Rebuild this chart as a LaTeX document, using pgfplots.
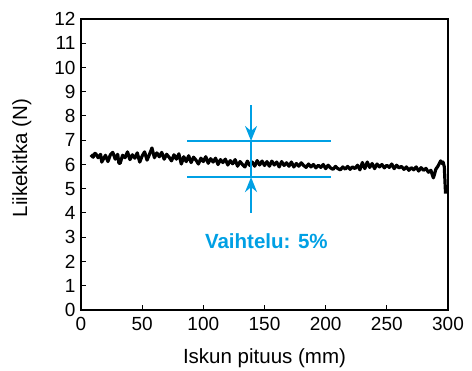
\documentclass[border=0pt]{standalone}
\usepackage{pgfplots}
\pgfplotsset{compat=1.18}
\usepackage{fontspec}
\setmainfont{Liberation Sans}
\usetikzlibrary{arrows.meta}
\definecolor{cyanA}{RGB}{0,160,228}
\begin{document}
\begin{tikzpicture}
\begin{axis}[
  at={(0,0)}, anchor=south west,
  scale only axis, width=367pt, height=291pt,
  xmin=0, xmax=300, ymin=0, ymax=12,
  xtick={0,50,...,300}, ytick={0,1,...,12},
  xtick pos=bottom, ytick pos=left, tick align=inside,
  major tick length=5pt,
  axis line style={line width=1.6pt},
  tick style={line width=1pt, black},
  /pgf/number format/assume math mode=true,
  ticklabel style={font=\fontsize{19}{19}\selectfont},
  xticklabel style={yshift=-4pt},
  yticklabel style={xshift=-2pt},
  xlabel={Iskun pituus (mm)}, ylabel={Liikekitka (N)},
  label style={font=\fontsize{20.5}{20.5}\selectfont},
  xlabel style={at={(axis description cs:0.5,-0.165)}, anchor=center},
  ylabel style={at={(axis description cs:-0.161,0.522)}, anchor=center},
  clip=false,
]
\addplot[black, line width=3.2pt, line join=round] coordinates {
(8,6.40)(10,6.30)(11,6.45)(12,6.45)(14,6.28)(16,6.42)(17,6.10)(18,6.20)(20,6.38)(22,6.12)(24,6.40)(26,6.50)
(28,6.22)(30,6.42)(31,6.05)(32,6.05)(34,6.38)(36,6.28)(38,6.52)(40,6.20)(42,6.40)(44,6.26)(46,6.48)
(48,6.10)(50,6.35)(52,6.52)(54,6.18)(56,6.42)(58,6.68)(60,6.28)(62,6.48)(64,6.32)(66,6.50)
(68,6.22)(70,6.42)(72,6.30)(74,6.15)(76,6.40)(78,6.22)(80,6.44)(82,6.02)(84,6.32)(86,6.12)
(88,6.36)(90,6.08)(92,6.30)(94,6.18)(96,6.02)(98,6.26)(100,6.12)(102,6.32)(104,6.05)(106,6.24)
(108,6.10)(110,6.26)(112,6.00)(114,6.20)(116,6.08)(118,6.22)(120,5.98)(122,6.16)(124,6.03)(126,6.20)
(128,5.93)(130,6.12)(132,6.00)(134,5.90)(136,6.14)(138,5.96)(140,6.10)(142,5.93)(144,6.16)(146,5.98)
(148,6.14)(150,5.96)(152,6.12)(154,5.93)(156,6.14)(158,5.98)(160,6.10)(162,5.90)(164,6.12)(166,5.96)
(168,6.07)(170,5.93)(172,6.10)(174,5.90)(176,6.04)(178,5.93)(180,6.07)(182,5.96)(184,5.88)(186,6.02)
(188,5.90)(190,6.00)(192,5.86)(194,5.97)(196,5.88)(198,6.00)(200,5.83)(202,5.97)(204,5.86)(206,5.80)
(208,5.92)(210,5.83)(212,5.78)(214,5.90)(216,5.81)(218,5.92)(220,5.80)(222,5.90)(224,5.83)(226,5.97)
(228,5.78)(230,6.08)(232,5.83)(234,6.10)(236,5.88)(238,6.04)(240,5.83)(242,6.02)(244,5.90)(246,6.00)
(248,5.86)(250,5.97)(252,5.88)(254,6.02)(256,5.83)(258,5.97)(260,5.86)(262,5.92)(264,5.80)(266,5.90)
(268,5.76)(270,5.87)(272,5.78)(274,5.90)(276,5.73)(278,5.87)(280,5.76)(282,5.84)(284,5.68)(286,5.76)
(288,5.45)(289,5.60)(290,5.80)(292,5.95)(294,6.15)(295,6.05)(296,6.10)(297,5.90)(298,4.80)
};
\draw[cyanA, line width=2pt] (axis cs:87,6.97) -- (axis cs:204,6.97);
\draw[cyanA, line width=2pt] (axis cs:87,5.48) -- (axis cs:204,5.48);
\draw[cyanA, line width=2pt] (axis cs:139,6.97) -- (axis cs:139,5.48);
\draw[cyanA, line width=2pt, -{Stealth[length=15pt,width=12pt,inset=5pt]}] (axis cs:139,8.45) -- (axis cs:139,6.97);
\draw[cyanA, line width=2pt, -{Stealth[length=15pt,width=12pt,inset=5pt]}] (axis cs:139,4.0) -- (axis cs:139,5.48);
\node[cyanA, font=\fontsize{20.5}{20.5}\selectfont\bfseries, anchor=center] at (axis cs:151.5,2.82) {Vaihtelu: 5\%};
\end{axis}
\pgfresetboundingbox
\useasboundingbox (-81pt,-61pt) rectangle (391pt,310pt);
\end{tikzpicture}
\end{document}
